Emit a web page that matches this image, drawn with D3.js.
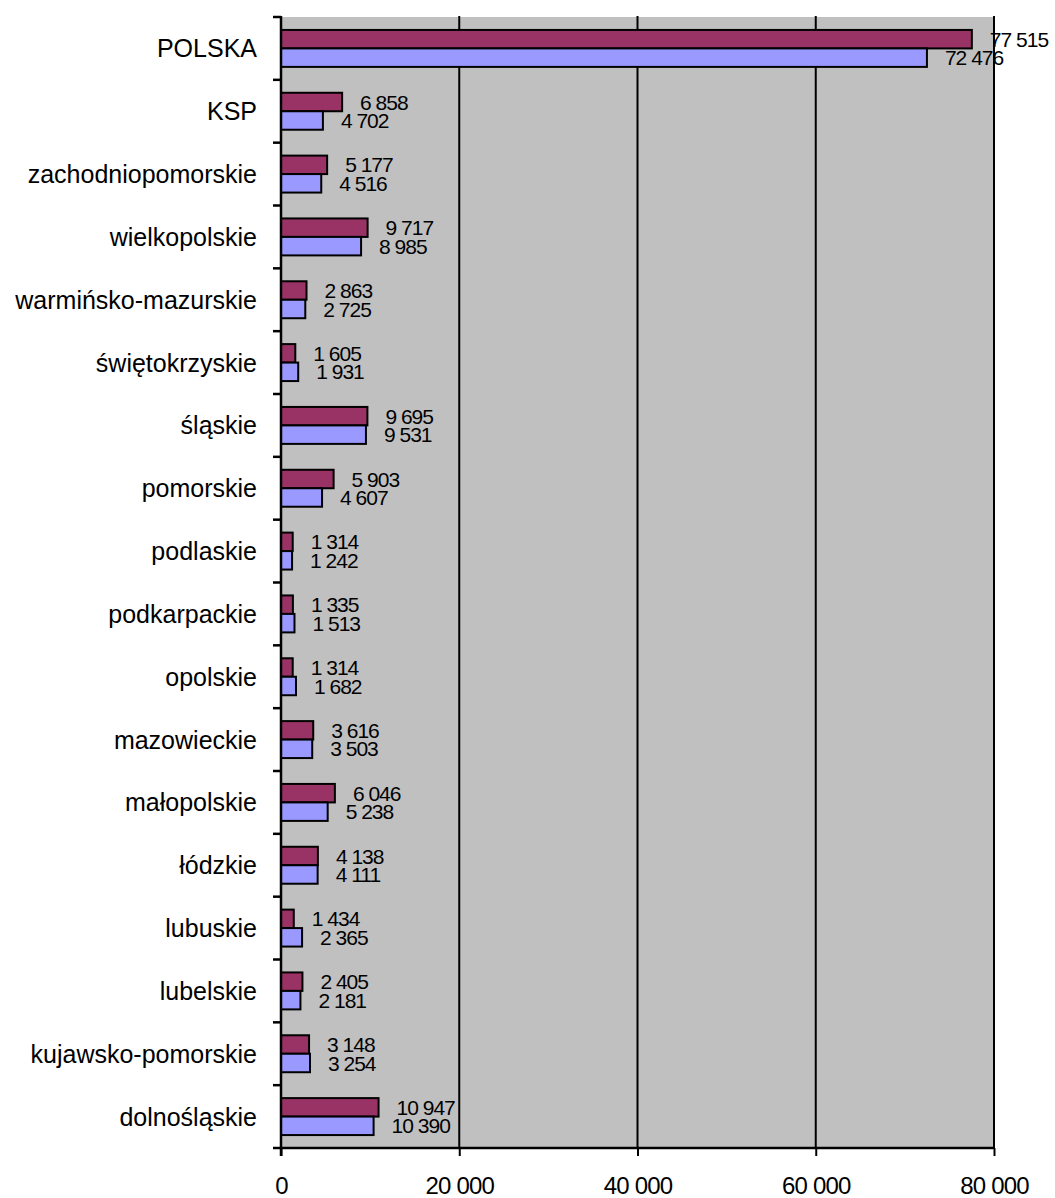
<!DOCTYPE html>
<html>
<head>
<meta charset="utf-8">
<script src="https://cdn.jsdelivr.net/npm/d3@7"></script>
<style>
  body { margin: 0; background: #fff; }
  svg { display: block; font-family: "Liberation Sans", Arial, sans-serif; }
</style>
</head>
<body>
<div id="chart"></div>
<script>
const categories = [
  "POLSKA", "KSP", "zachodniopomorskie", "wielkopolskie", "warmińsko-mazurskie",
  "świętokrzyskie", "śląskie", "pomorskie", "podlaskie", "podkarpackie",
  "opolskie", "mazowieckie", "małopolskie", "łódzkie", "lubuskie",
  "lubelskie", "kujawsko-pomorskie", "dolnośląskie"
];
const seriesA = [77515, 6858, 5177, 9717, 2863, 1605, 9695, 5903, 1314, 1335, 1314, 3616, 6046, 4138, 1434, 2405, 3148, 10947];
const seriesB = [72476, 4702, 4516, 8985, 2725, 1931, 9531, 4607, 1242, 1513, 1682, 3503, 5238, 4111, 2365, 2181, 3254, 10390];
const xTicks = [0, 20000, 40000, 60000, 80000];

const width = 1055, height = 1198;
const plot = { left: 281, right: 994, top: 17, bottom: 1148 };

const data = categories.map((c, i) => ({ name: c, a: seriesA[i], b: seriesB[i] }));

const svg = d3.select("#chart")
  .append("svg")
  .attr("width", width)
  .attr("height", height);

const x = d3.scaleLinear()
  .domain([0, 80000])
  .range([plot.left, plot.right]);

const y = d3.scaleBand()
  .domain(categories)
  .range([plot.top, plot.bottom])
  .padding(0);

const ySub = d3.scaleBand()
  .domain(["a", "b"])
  .range([0, y.bandwidth()])
  .paddingInner(0)
  .paddingOuter(0.7);

const fmt = v => d3.format(",")(v).replace(/,/g, " ");

// plot background
svg.append("rect")
  .attr("x", plot.left)
  .attr("y", plot.top)
  .attr("width", plot.right - plot.left)
  .attr("height", plot.bottom - plot.top)
  .attr("fill", "#c0c0c0");

// vertical gridlines
svg.selectAll(".grid")
  .data(xTicks.slice(1))
  .enter().append("line")
  .attr("class", "grid")
  .attr("x1", d => x(d))
  .attr("x2", d => x(d))
  .attr("y1", plot.top - 1)
  .attr("y2", plot.bottom)
  .attr("stroke", "#000")
  .attr("stroke-width", 2);

// bars
const rows = svg.selectAll(".row")
  .data(data)
  .enter().append("g")
  .attr("class", "row")
  .attr("transform", d => "translate(0," + y(d.name) + ")");

rows.append("rect")
  .attr("x", x(0))
  .attr("y", ySub("a"))
  .attr("width", d => x(d.a) - x(0))
  .attr("height", ySub.bandwidth())
  .attr("fill", "#993366")
  .attr("stroke", "#000")
  .attr("stroke-width", 2);

rows.append("rect")
  .attr("x", x(0))
  .attr("y", ySub("b"))
  .attr("width", d => x(d.b) - x(0))
  .attr("height", ySub.bandwidth())
  .attr("fill", "#9999ff")
  .attr("stroke", "#000")
  .attr("stroke-width", 2);

// value labels
rows.append("text")
  .attr("x", d => x(d.a) + 18)
  .attr("y", ySub("a") + ySub.bandwidth() / 2)
  .attr("dy", "0.36em")
  .style("font-size", "21px")
  .style("letter-spacing", "-1px")
  .text(d => fmt(d.a));

rows.append("text")
  .attr("x", d => x(d.b) + 18)
  .attr("y", ySub("b") + ySub.bandwidth() / 2)
  .attr("dy", "0.36em")
  .style("font-size", "21px")
  .style("letter-spacing", "-1px")
  .text(d => fmt(d.b));

// category labels
rows.append("text")
  .attr("x", 257)
  .attr("y", y.bandwidth() / 2)
  .attr("dy", "0.36em")
  .attr("text-anchor", "end")
  .style("font-size", "25px")
  .text(d => d.name);

// left axis: ticks at category boundaries
const boundaries = categories.map(c => y(c)).concat([y(categories[categories.length - 1]) + y.bandwidth()]);
svg.selectAll(".ytick")
  .data(boundaries)
  .enter().append("line")
  .attr("class", "ytick")
  .attr("x1", plot.left - 8)
  .attr("x2", plot.left)
  .attr("y1", d => d)
  .attr("y2", d => d)
  .attr("stroke", "#000")
  .attr("stroke-width", 2.5);

svg.append("line")
  .attr("x1", plot.left)
  .attr("x2", plot.left)
  .attr("y1", plot.top - 1)
  .attr("y2", plot.bottom + 8)
  .attr("stroke", "#000")
  .attr("stroke-width", 2.5);

// bottom axis
const xAxis = svg.append("g")
  .attr("transform", "translate(0," + plot.bottom + ")")
  .call(d3.axisBottom(x).tickValues(xTicks).tickFormat(fmt).tickSize(8).tickPadding(21));

xAxis.select(".domain")
  .attr("stroke-width", 2.5)
  .attr("d", "M" + plot.left + ",0H" + plot.right);
xAxis.selectAll(".tick line").attr("stroke-width", 2);
xAxis.selectAll(".tick text")
  .style("font-size", "24px")
  .style("font-family", "'Liberation Sans', Arial, sans-serif")
  .style("letter-spacing", "-0.8px")
  .attr("fill", "#000");
</script>
</body>
</html>
